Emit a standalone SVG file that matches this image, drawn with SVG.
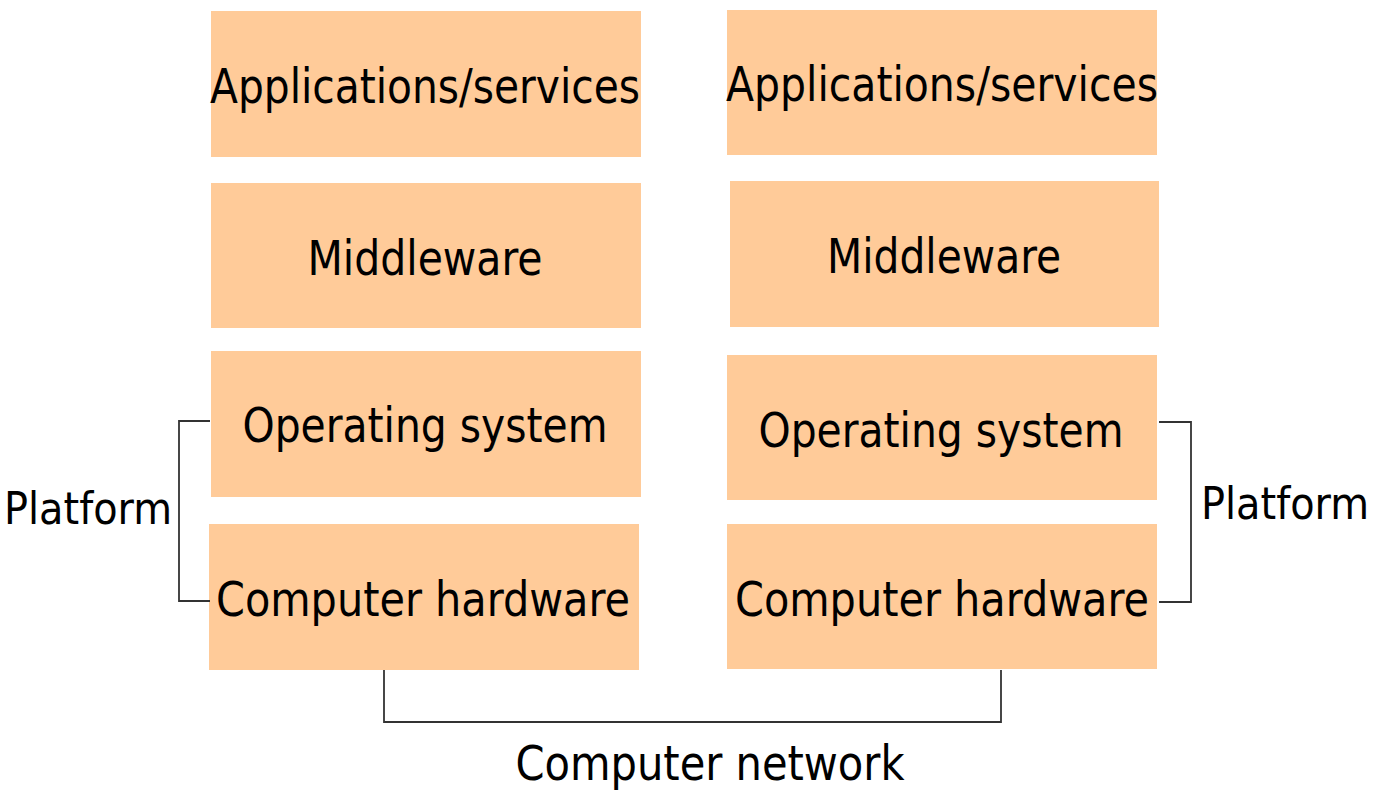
<svg xmlns="http://www.w3.org/2000/svg" width="1380" height="792" viewBox="0 0 1380 792">
<style>
.box{fill:#FFCB99;}
.t{font-family:"DejaVu Sans Condensed","DejaVu Sans",sans-serif;font-size:48px;fill:#000;text-anchor:middle;}
.p{font-size:45px;}
.c{fill:none;stroke:#333;stroke-width:1.8;}
</style>
<rect width="1380" height="792" fill="#fff"/>
<g id="left-apps"><rect class="box" x="211" y="11" width="430" height="146"/><text class="t" x="425" y="103" textLength="430" lengthAdjust="spacingAndGlyphs">Applications/services</text></g>
<g id="left-middleware"><rect class="box" x="211" y="183" width="430" height="145"/><text class="t" x="425" y="275" textLength="235" lengthAdjust="spacingAndGlyphs">Middleware</text></g>
<g id="left-os"><rect class="box" x="211" y="351" width="430" height="146"/><text class="t" x="425" y="442" textLength="365" lengthAdjust="spacingAndGlyphs">Operating system</text></g>
<g id="left-hw"><rect class="box" x="209" y="524" width="430" height="146"/><text class="t" x="423" y="616" textLength="414" lengthAdjust="spacingAndGlyphs">Computer hardware</text></g>
<g id="right-apps"><rect class="box" x="727" y="10" width="430" height="145"/><text class="t" x="942" y="101" textLength="432" lengthAdjust="spacingAndGlyphs">Applications/services</text></g>
<g id="right-middleware"><rect class="box" x="730" y="181" width="429" height="146"/><text class="t" x="944" y="273" textLength="234" lengthAdjust="spacingAndGlyphs">Middleware</text></g>
<g id="right-os"><rect class="box" x="727" y="355" width="430" height="145"/><text class="t" x="941" y="447" textLength="365" lengthAdjust="spacingAndGlyphs">Operating system</text></g>
<g id="right-hw"><rect class="box" x="727" y="524" width="430" height="145"/><text class="t" x="942" y="616" textLength="414" lengthAdjust="spacingAndGlyphs">Computer hardware</text></g>
<g id="connectors">
<polyline class="c" points="210,421 179,421 179,601 210,601"/>
<polyline class="c" points="1159,422 1191,422 1191,602 1159,602"/>
<polyline class="c" points="384,670 384,722 1001,722 1001,670"/>
</g>
<g id="label-platform-left"><text class="t p" x="88" y="524" textLength="168" lengthAdjust="spacingAndGlyphs">Platform</text></g>
<g id="label-platform-right"><text class="t p" x="1285" y="519" textLength="168" lengthAdjust="spacingAndGlyphs">Platform</text></g>
<g id="label-network"><text class="t" x="710" y="780" textLength="389" lengthAdjust="spacingAndGlyphs">Computer network</text></g>
</svg>
